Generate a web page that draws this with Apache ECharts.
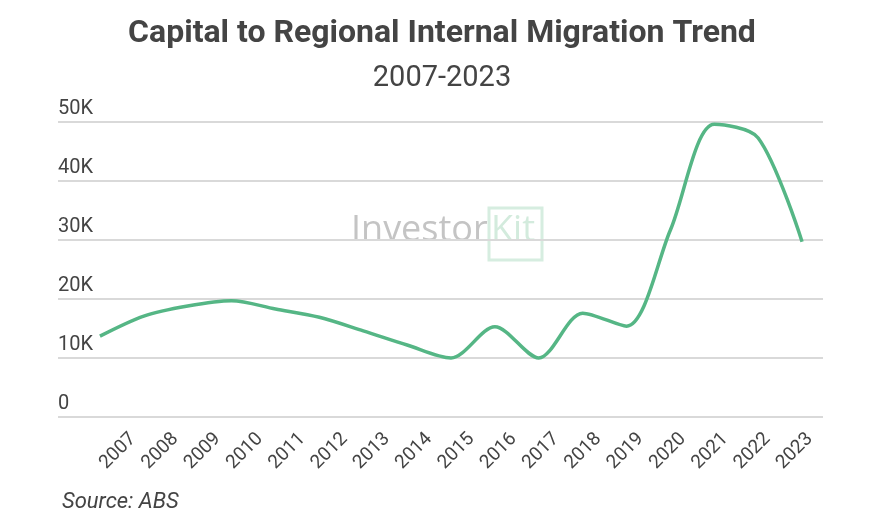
<!DOCTYPE html>
<html>
<head>
<meta charset="utf-8">
<script src="https://cdn.jsdelivr.net/npm/echarts@6/dist/echarts.min.js"></script>
<style>
  html, body { margin: 0; padding: 0; background: #fff; }
  #chart { width: 884px; height: 523px; }
</style>
</head>
<body>
<div id="chart"></div>
<script>
const years = ["2007", "2008", "2009", "2010", "2011", "2012", "2013", "2014", "2015",
  "2016", "2017", "2018", "2019", "2020", "2021", "2022", "2023"];
const migration = [13700, 17100, 18800, 19700, 18300, 16900, 14600, 12200, 10000,
  15300, 10000, 17600, 15400, 31700, 49600, 47300, 29700];
const yTicks = [0, 10000, 20000, 30000, 40000, 50000];

const chart = echarts.init(document.getElementById("chart"));

const textColor = "#444";

chart.setOption({
  animation: false,
  title: [
    {
      text: "Capital to Regional Internal Migration Trend",
      left: "center",
      top: 13,
      textStyle: { fontFamily: "Roboto", fontWeight: "bold", fontSize: 32, color: textColor }
    },
    {
      text: "2007-2023",
      left: "center",
      top: 59,
      textStyle: { fontFamily: "Roboto", fontWeight: "normal", fontSize: 29, color: textColor }
    },
    {
      text: "Source: ABS",
      left: 57,
      top: 486,
      textStyle: { fontFamily: "Roboto", fontStyle: "italic", fontWeight: "normal", fontSize: 22, color: textColor }
    }
  ],
  graphic: [
    {
      type: "text",
      left: 351,
      top: 213,
      style: { text: "Investor", fontFamily: "Open Sans", fontSize: 36, fill: "#c4c4c4" },
      z: 0
    },
    {
      type: "rect",
      shape: { x: 489, y: 208, width: 53, height: 52 },
      style: { fill: "none", stroke: "#d6ede0", lineWidth: 3 },
      z: 0
    },
    {
      type: "text",
      left: 491,
      top: 213,
      style: { text: "Kit", fontFamily: "Open Sans", fontSize: 36, fill: "#d3ebdd" },
      z: 0
    }
  ],
  grid: [
    { left: 58, right: 61, top: 122, bottom: 106 },
    { left: 78, right: 60, top: 122, bottom: 106 },
    { left: 112, right: 53, top: 122, bottom: 106 }
  ],
  xAxis: [
    { gridIndex: 0, type: "category", data: years, show: false },
    { gridIndex: 1, type: "category", data: years, show: false },
    {
      gridIndex: 2,
      type: "category",
      data: years,
      axisLine: { show: false },
      axisTick: { show: false },
      axisLabel: {
        rotate: 45,
        margin: 19,
        fontFamily: "Roboto",
        fontSize: 19,
        color: textColor
      }
    }
  ],
  yAxis: [
    {
      gridIndex: 0,
      type: "value",
      min: 0,
      max: 50000,
      interval: 10000,
      axisLine: { show: false },
      axisTick: { show: false },
      splitLine: { lineStyle: { color: "#d9d9d9", width: 2 } },
      axisLabel: {
        inside: true,
        margin: 0,
        verticalAlign: "bottom",
        padding: [0, 0, 3, 0],
        fontFamily: "Roboto",
        fontSize: 20,
        color: textColor,
        formatter: v => (yTicks.includes(v) ? (v === 0 ? "0" : v / 1000 + "K") : "")
      }
    },
    { gridIndex: 1, type: "value", min: 0, max: 50000, interval: 10000, show: false },
    { gridIndex: 2, type: "value", min: 0, max: 50000, interval: 10000, show: false }
  ],
  series: [
    {
      type: "line",
      xAxisIndex: 1,
      yAxisIndex: 1,
      data: migration,
      smooth: 0.3,
      showSymbol: false,
      lineStyle: { color: "#55b685", width: 3.5 },
      z: 5
    }
  ]
});
</script>
</body>
</html>
